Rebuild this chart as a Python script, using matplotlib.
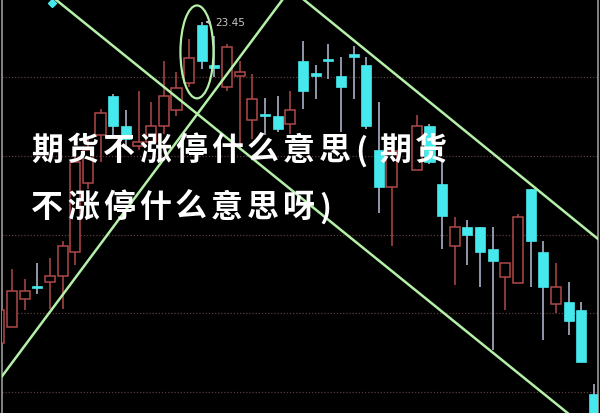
import numpy as np
import matplotlib
matplotlib.use("Agg")
import matplotlib.pyplot as plt
from matplotlib.patches import Ellipse

plt.rcParams['font.family'] = ['Noto Sans CJK SC', 'DejaVu Sans']

# ── candle data (index -1 is the clipped one at the left edge, 31 is a gap) ──
idx = list(range(-1, 47))
opens = [21.41, 21.51, 21.69, 21.77, 21.80, 21.84, 21.99, 22.43, 22.73, 22.98,
         22.79, 22.66, 22.69, 22.79, 22.89, 23.06, 23.43, 23.18, 23.04, 23.11,
         22.83, 22.86, 22.85, 22.80, 23.20, 23.12, 23.21, 23.11, 23.24, 23.18,
         22.64, 22.40, np.nan, 22.51, 22.79, 22.42, 22.03, 22.15, 22.15, 22.01,
         21.83, 21.79, 22.39, 21.99, 21.66, 21.67, 21.62, 21.09]
highs = [21.66, 21.88, 21.82, 21.92, 21.95, 22.06, 22.59, 22.71, 22.90, 22.99,
         22.89, 23.01, 22.94, 23.20, 23.13, 23.34, 23.45, 23.36, 23.31, 23.20,
         23.12, 22.97, 22.98, 23.01, 23.33, 23.18, 23.31, 23.23, 23.30, 23.23,
         22.94, 22.63, np.nan, 22.86, 22.80, 22.56, 22.21, 22.19, 22.15, 22.15,
         21.92, 22.23, 22.39, 22.06, 21.92, 21.80, 21.67, 21.15]
lows = [21.36, 21.51, 21.62, 21.72, 21.63, 21.63, 21.91, 22.39, 22.56, 22.73,
        22.64, 22.64, 22.64, 22.74, 22.85, 23.04, 23.15, 23.10, 23.01, 22.64,
        22.71, 22.73, 22.75, 22.74, 22.90, 22.96, 23.09, 22.75, 22.96, 22.77,
        22.24, 22.03, np.nan, 22.51, 22.55, 22.01, 21.78, 21.91, 21.77, 21.37,
        21.62, 21.79, 21.77, 21.43, 21.60, 21.46, 21.29, 20.93]
closes = [21.62, 21.74, 21.74, 21.76, 21.84, 22.03, 22.56, 22.64, 22.87, 22.79,
          22.71, 22.69, 22.79, 22.98, 23.03, 23.22, 23.20, 23.16, 23.29, 23.13,
          22.96, 22.85, 22.77, 22.89, 23.01, 23.11, 23.20, 23.04, 23.23, 22.79,
          22.40, 22.63, np.nan, 22.79, 22.56, 22.22, 22.15, 22.10, 21.99, 21.93,
          21.92, 22.21, 22.06, 21.77, 21.77, 21.55, 21.29, 20.93]

grid_levels = [23.1, 22.6, 22.1, 21.6, 21.1]
peak_label = "23.45"
peak_idx, peak_price = 15, 23.45
marker_pt = (3.16, 23.57)

# trend lines as two (index, price) points each
trend_lines = [
    ((3.40, 23.596), (22.77, 22.339)),
    ((-0.95, 21.183), (21.42, 23.596)),
    ((23.0, 23.596), (46.32, 22.072)),
]
ellipse_center = (14.62, 23.26)
ellipse_size = (2.61, 0.59)

title_1 = "期货不涨停什么意思(期货"
title_2 = "不涨停什么意思呀)"

# ── colours ──
UP = "#b04848"
DOWN = "#45e8ec"
DOWN_WICK = "#b8c0d8"
LINE_GREEN = "#b4f0a8"
GRID = "#5a3c3c"

fig = plt.figure(figsize=(6, 4.14), dpi=100, facecolor="black")
ax = fig.add_axes([2 / 600, 0, 596 / 600, 1])
ax.set_facecolor("black")
ax.set_xlim(-0.79, 46.32)
ax.set_ylim(20.967, 23.596)
ax.set_xticks([])
ax.set_yticks([])
for side in ["top", "bottom"]:
    ax.spines[side].set_visible(False)
for side in ["left", "right"]:
    ax.spines[side].set_color("#9a9a9a")
    ax.spines[side].set_linewidth(1.2)

for lv in grid_levels:
    ax.axhline(lv, color=GRID, linestyle=(0, (1, 1.5)), linewidth=0.9, zorder=1)

w = 0.8
for i, o, h, l, c in zip(idx, opens, highs, lows, closes):
    if np.isnan(o):
        continue
    up = c >= o
    bot, top = min(o, c), max(o, c)
    hgt = max(top - bot, 0.014)
    if up:
        ax.vlines(i, l, h, color=UP, linewidth=1.1, zorder=2)
        ax.bar(i, hgt, bottom=bot, width=w, facecolor="black",
               edgecolor=UP, linewidth=1.1, zorder=3)
    else:
        ax.vlines(i, l, h, color=DOWN_WICK, linewidth=1.1, zorder=2)
        ax.bar(i, hgt, bottom=bot, width=w, facecolor=DOWN,
               edgecolor=DOWN, linewidth=0.5, zorder=3)

for p1, p2 in trend_lines:
    ax.axline(p1, p2, color=LINE_GREEN, linewidth=1.8, zorder=4)

ax.add_patch(Ellipse(ellipse_center, ellipse_size[0], ellipse_size[1],
                     fill=False, edgecolor=LINE_GREEN, linewidth=1.6, zorder=4))

ax.plot(*marker_pt, marker="D", markersize=4.5, color=DOWN, zorder=5)

ax.annotate(peak_label, xy=(peak_idx + 0.05, peak_price),
            xytext=(peak_idx + 1.1, peak_price), color="#c8c8c8",
            fontsize=7.5, va="center", family=["DejaVu Sans"],
            arrowprops=dict(arrowstyle="-|>", color="#c8c8c8", lw=0.8,
                            mutation_scale=5), zorder=6)


# title overlay, laid out glyph by glyph for the wide handwritten spacing
def put_line(s, x0, y):
    x = x0
    for ch in s:
        fig.text(x / 600, 1 - y / 414, ch, color="white", fontsize=23,
                 fontweight="bold", va="center", ha="left", zorder=10)
        x += 24 if ch in "()" else 36


put_line(title_1, 31, 151)
put_line(title_2, 31, 208)

fig.savefig("out.png", dpi=100, facecolor="black")
